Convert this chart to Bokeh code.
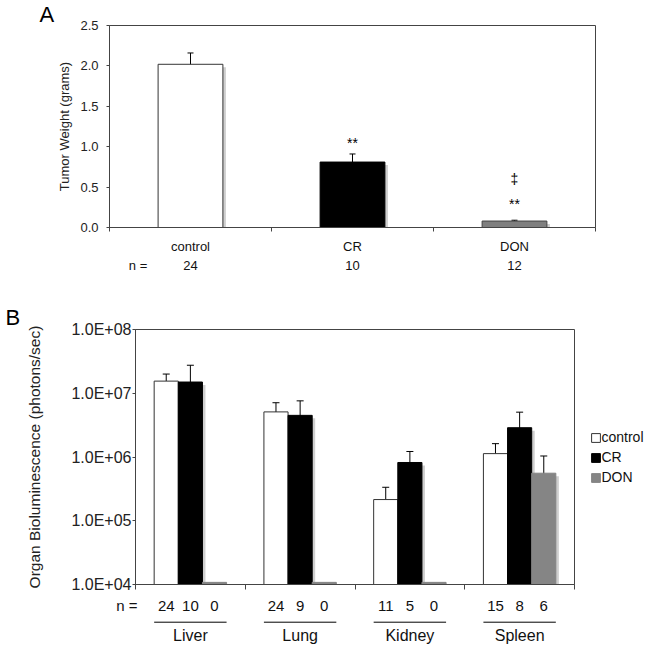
from bokeh.plotting import figure
from bokeh.layouts import column
from bokeh.models import (Range1d, FixedTicker, NumeralTickFormatter, CustomJSTickFormatter,
                          Whisker, TeeHead, ColumnDataSource, Legend, LegendItem)
from bokeh.core.properties import value
from bokeh.embed import file_html
from bokeh.resources import INLINE
import numpy as np

FONT = "Liberation Sans"

# ---------------- Panel A data ----------------
a_groups = ["control", "CR", "DON"]
a_n = ["24", "10", "12"]
a_weight = [2.02, 0.81, 0.08]
a_err = [0.14, 0.10, 0.01]
a_fill = ["white", "black", "#7f7f7f"]
a_line = ["#333333", "black", "#444444"]
a_yticks = [0.0, 0.5, 1.0, 1.5, 2.0, 2.5]
a_sig_text = ["**", "\u2021", "**"]
a_sig_group = [1, 2, 2]
a_sig_y = [1.05, 0.60, 0.29]

# ---------------- Panel B data ----------------
b_organs = ["Liver", "Lung", "Kidney", "Spleen"]
b_series = ["control", "CR", "DON"]
b_control = [1.55e7, 5.1e6, 2.15e5, 1.13e6]
b_control_err = [4.5e6, 2.0e6, 1.2e5, 4.9e5]
b_cr = [1.5e7, 4.5e6, 8.2e5, 2.88e6]
b_cr_err = [1.25e7, 3.1e6, 4.0e5, 2.17e6]
b_don = [0, 0, 0, 5.57e5]
b_don_err = [0, 0, 0, 4.8e5]
b_n_control = [24, 24, 11, 15]
b_n_cr = [10, 9, 5, 8]
b_n_don = [0, 0, 0, 6]
b_yticks = [1e4, 1e5, 1e6, 1e7, 1e8]
b_fill = ["white", "black", "#858585"]
b_line = ["#333333", "black", "#858585"]

AX = "#444444"
TXT = "#111111"
SHADOW = "#cfcfcf"

# ---------------- layout (pixels) ----------------
A_LEFT, A_FW, A_RIGHT, A_TOP, A_FH, A_BOT = 109, 486, 57, 25, 202, 10
SA_H = 66
B_LEFT, B_FW, B_RIGHT, B_TOP, B_FH, B_BOT = 135, 439, 78, 26, 255, 10
SB_H = 56


def base_fig(**kw):
    f = figure(output_backend="svg", toolbar_location=None, **kw)
    f.grid.visible = False
    return f


def style_letter(t, text, offset, standoff):
    t.text = text
    t.align = "left"
    t.offset = offset
    t.standoff = standoff
    t.text_font = FONT
    t.text_font_size = "22px"
    t.text_font_style = "normal"
    t.text_color = "black"


# ================= Panel A =================
pa = base_fig(frame_width=A_FW, frame_height=A_FH,
              x_range=Range1d(0, len(a_groups)),
              y_range=Range1d(a_yticks[0], a_yticks[-1]),
              min_border_left=A_LEFT, min_border_right=A_RIGHT,
              min_border_top=A_TOP, min_border_bottom=A_BOT)
pa.outline_line_color = AX
style_letter(pa.title, "A", -70, -2)

pa.xaxis.ticker = FixedTicker(ticks=[], minor_ticks=list(range(len(a_groups) + 1)))
pa.xaxis.major_tick_out = 0
pa.xaxis.major_tick_in = 0
pa.xaxis.minor_tick_in = 0
pa.xaxis.minor_tick_out = 4
pa.xaxis.minor_tick_line_color = AX
pa.xaxis.axis_line_color = AX

pa.yaxis.ticker = FixedTicker(ticks=a_yticks)
pa.yaxis.formatter = NumeralTickFormatter(format="0.0")
pa.yaxis.major_tick_in = 0
pa.yaxis.major_tick_out = 3
pa.yaxis.minor_tick_line_color = None
pa.yaxis.axis_line_color = AX
pa.yaxis.major_tick_line_color = AX
pa.yaxis.major_label_text_font = FONT
pa.yaxis.major_label_text_font_size = "13px"
pa.yaxis.major_label_text_color = "#222222"
pa.yaxis.major_label_standoff = 8
pa.yaxis.axis_label = "Tumor Weight (grams)"
pa.yaxis.axis_label_text_font = FONT
pa.yaxis.axis_label_text_font_size = "13px"
pa.yaxis.axis_label_text_font_style = "normal"
pa.yaxis.axis_label_text_color = "#222222"
pa.yaxis.axis_label_standoff = 5

a_x = np.arange(len(a_groups)) + 0.5
a_unit_px = A_FW / len(a_groups)
a_val_px = A_FH / (a_yticks[-1] - a_yticks[0])
a_src = ColumnDataSource(dict(
    x=a_x, top=a_weight, fill=a_fill, line=a_line,
    sx=a_x + 3 / a_unit_px, stop=np.array(a_weight) - 3 / a_val_px,
    upper=np.array(a_weight) + np.array(a_err),
    lower=np.array(a_weight) - np.array(a_err)))
pa.vbar(x="sx", top="stop", bottom=0, width=0.4, fill_color=SHADOW, line_color=None,
        source=a_src)
pa.vbar(x="x", top="top", bottom=0, width=0.4, fill_color="fill", line_color="line",
        line_width=1, source=a_src)
pa.add_layout(Whisker(base="x", upper="upper", lower="lower", source=a_src,
                      line_color="black", line_width=1,
                      upper_head=TeeHead(size=6, line_color="black"),
                      lower_head=TeeHead(size=6, line_color="black")))
pa.text(x=[a_x[g] for g in a_sig_group], y=a_sig_y, text=a_sig_text,
        text_align="center", text_baseline="middle",
        text_font=value(FONT), text_font_size="14px", text_color="black")

# strip under panel A: group names and n
sa = base_fig(frame_width=A_FW, frame_height=SA_H, x_range=pa.x_range,
              y_range=Range1d(0, SA_H), x_axis_location=None, y_axis_location=None,
              min_border_left=A_LEFT, min_border_right=A_RIGHT,
              min_border_top=0, min_border_bottom=0)
sa.outline_line_color = None
sa.text(x=a_x, y=[SA_H - 8.5] * len(a_x), text=a_groups, text_align="center",
        text_baseline="middle", text_font=value(FONT), text_font_size="13px",
        text_color=TXT)
sa.text(x=list(a_x), y=[SA_H - 28] * len(a_x), text=a_n, text_align="center",
        text_baseline="middle", text_font=value(FONT), text_font_size="13px",
        text_color=TXT)
sa.text(x=[(137.5 - A_LEFT) / a_unit_px], y=[SA_H - 28], text=["n ="],
        text_align="center", text_baseline="middle", text_font=value(FONT),
        text_font_size="13px", text_color=TXT)

# ================= Panel B =================
pb = base_fig(frame_width=B_FW, frame_height=B_FH,
              x_range=Range1d(0, len(b_organs)),
              y_range=Range1d(b_yticks[0], b_yticks[-1]), y_axis_type="log",
              min_border_left=B_LEFT, min_border_right=B_RIGHT,
              min_border_top=B_TOP, min_border_bottom=B_BOT)
pb.outline_line_color = AX
style_letter(pb.title, "B", -130, -1)

pb.xaxis.ticker = FixedTicker(ticks=[], minor_ticks=list(range(len(b_organs) + 1)))
pb.xaxis.major_tick_out = 0
pb.xaxis.major_tick_in = 0
pb.xaxis.minor_tick_in = 0
pb.xaxis.minor_tick_out = 5
pb.xaxis.minor_tick_line_color = AX
pb.xaxis.axis_line_color = AX

pb.yaxis.ticker = FixedTicker(ticks=b_yticks)
pb.yaxis.formatter = CustomJSTickFormatter(code="""
const s = tick.toExponential(1).toUpperCase();
const m = s.split("E");
const e = parseInt(m[1]);
const sign = e < 0 ? "-" : "+";
const a = Math.abs(e);
return m[0] + "E" + sign + (a < 10 ? "0" + a : String(a));
""")
pb.yaxis.major_tick_in = 0
pb.yaxis.major_tick_out = 3
pb.yaxis.minor_tick_line_color = None
pb.yaxis.axis_line_color = AX
pb.yaxis.major_tick_line_color = AX
pb.yaxis.major_label_text_font = FONT
pb.yaxis.major_label_text_font_size = "16px"
pb.yaxis.major_label_text_color = "#222222"
pb.yaxis.major_label_standoff = 1
pb.yaxis.axis_label = "Organ Bioluminescence (photons/sec)"
pb.yaxis.axis_label_text_font = FONT
pb.yaxis.axis_label_text_font_size = "15.5px"
pb.yaxis.axis_label_text_font_style = "normal"
pb.yaxis.axis_label_text_color = "#222222"
pb.yaxis.axis_label_standoff = 25

BW = 0.22
b_centers = np.arange(len(b_organs)) + 0.5
b_floor = b_yticks[0]
b_unit_px = B_FW / len(b_organs)
b_dec_px = B_FH / (np.log10(b_yticks[-1]) - np.log10(b_yticks[0]))
series_vals = [b_control, b_cr, b_don]
series_errs = [b_control_err, b_cr_err, b_don_err]
series_ns = [b_n_control, b_n_cr, b_n_don]

# shadows first
for i, vals in enumerate(series_vals):
    xs = b_centers + (i - 1) * BW
    keep = [j for j, v in enumerate(vals) if v > 0]
    pb.vbar(x=[xs[j] + 3 / b_unit_px for j in keep],
            top=[vals[j] / 10 ** (3 / b_dec_px) for j in keep],
            bottom=b_floor, width=BW, fill_color=SHADOW, line_color=None)

items = []
n_x, n_t = [], []
for i, (name, vals, errs) in enumerate(zip(b_series, series_vals, series_errs)):
    xs = b_centers + (i - 1) * BW
    # zero values are shown as a hairline bar just above the axis floor
    tops = [v if v > 0 else b_floor * 1.08 for v in vals]
    src = ColumnDataSource(dict(x=xs, top=tops))
    r = pb.vbar(x="x", top="top", bottom=b_floor, width=BW, fill_color=b_fill[i],
                line_color=b_line[i], line_width=1, source=src)
    items.append(LegendItem(label=name, renderers=[r]))
    keep = [j for j, e in enumerate(errs) if e > 0]
    wsrc = ColumnDataSource(dict(
        x=[xs[j] for j in keep],
        upper=[vals[j] + errs[j] for j in keep],
        lower=[vals[j] - errs[j] for j in keep]))
    pb.add_layout(Whisker(base="x", upper="upper", lower="lower", source=wsrc,
                          line_color="black", line_width=1,
                          upper_head=TeeHead(size=7, line_color="black"),
                          lower_head=TeeHead(size=7, line_color="black")))
    n_x += list(xs)
    n_t += [str(v) for v in series_ns[i]]

legend = Legend(items=items, location=(15.5, 98.5), padding=0, margin=0, spacing=3,
                glyph_width=11, glyph_height=11, label_height=17, label_standoff=1,
                label_text_font=FONT, label_text_font_size="14px",
                label_text_color=TXT, border_line_color=None,
                background_fill_alpha=0)
pb.add_layout(legend, "right")

# strip under panel B: n, underline, organ names
sb = base_fig(frame_width=B_FW, frame_height=SB_H, x_range=pb.x_range,
              y_range=Range1d(0, SB_H), x_axis_location=None,
              min_border_left=B_LEFT, min_border_right=B_RIGHT,
              min_border_top=0, min_border_bottom=0)
sb.outline_line_color = None
y_n, y_line, y_name = SB_H - 11, SB_H - 27.7, SB_H - 41
sb.yaxis.ticker = FixedTicker(ticks=[y_n])
sb.yaxis.formatter = CustomJSTickFormatter(code="return 'n =';")
sb.yaxis.axis_line_color = None
sb.yaxis.major_tick_line_color = None
sb.yaxis.minor_tick_line_color = None
sb.yaxis.major_tick_out = 0
sb.yaxis.major_tick_in = 0
sb.yaxis.major_label_standoff = -2
sb.yaxis.major_label_text_font = FONT
sb.yaxis.major_label_text_font_size = "15px"
sb.yaxis.major_label_text_color = TXT

sb.text(x=n_x, y=[y_n] * len(n_x), text=n_t, text_align="center", text_baseline="middle",
        text_font=value(FONT), text_font_size="15px", text_color=TXT)
sb.segment(x0=b_centers - 1.5 * BW, x1=b_centers + 1.5 * BW,
           y0=[y_line] * len(b_centers), y1=[y_line] * len(b_centers),
           line_color="black", line_width=1)
sb.text(x=b_centers, y=[y_name] * len(b_centers), text=b_organs, text_align="center",
        text_baseline="middle", text_font=value(FONT), text_font_size="16px",
        text_color=TXT)

root_a = column(pa, sa, spacing=0)
root_b = column(pb, sb, spacing=0)
open("out.html", "w").write(file_html([root_a, root_b], INLINE))
